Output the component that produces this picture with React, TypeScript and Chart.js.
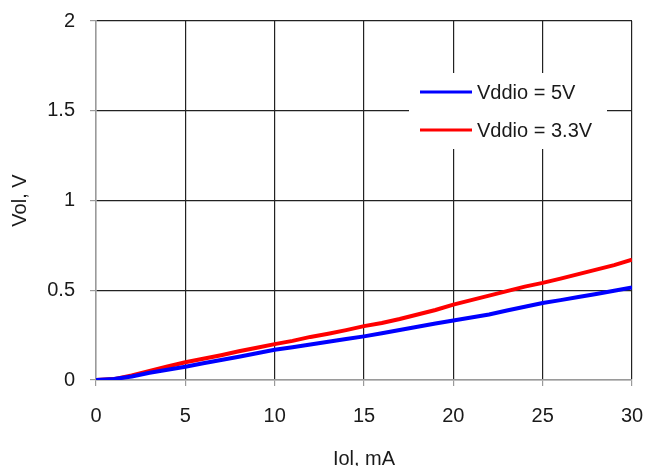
import React, { useEffect, useRef } from "react";
import { Chart, registerables } from "chart.js";

Chart.register(...registerables);

const iolMa = [0, 1, 2, 3, 4, 5, 6, 7, 8, 9, 10, 11, 12, 13, 14, 15, 16, 17, 18, 19, 20, 21, 22, 23, 24, 25, 26, 27, 28, 29, 30];
const vol5V = [0, 0.005, 0.02, 0.04, 0.057, 0.074, 0.093, 0.111, 0.13, 0.149, 0.168, 0.183, 0.198, 0.213, 0.228, 0.243, 0.26, 0.279, 0.297, 0.315, 0.332, 0.348, 0.365, 0.387, 0.408, 0.429, 0.445, 0.462, 0.479, 0.497, 0.515];
const vol33V = [0, 0.005, 0.025, 0.05, 0.075, 0.099, 0.118, 0.138, 0.16, 0.18, 0.2, 0.218, 0.24, 0.258, 0.278, 0.3, 0.318, 0.34, 0.365, 0.39, 0.42, 0.445, 0.47, 0.495, 0.52, 0.541, 0.565, 0.59, 0.615, 0.64, 0.67];
const seriesLabels = ["Vddio = 5V", "Vddio = 3.3V"];
const seriesColors = ["#0000FF", "#FF0000"];
const xTitle = "Iol, mA";
const yTitle = "Vol, V";

const FONT = "'Liberation Sans', Arial, sans-serif";
const TEXT = "#1a1a1a";

const legendPlugin = {
  id: "boxLegend",
  afterDraw(chart: any, _args: any, opts: any) {
    const ctx = chart.ctx;
    ctx.save();
    ctx.fillStyle = "#ffffff";
    ctx.fillRect(opts.x, opts.y, opts.w, opts.h);
    chart.data.datasets.forEach((ds: any, i: number) => {
      const cy = opts.y + opts.firstRow + i * opts.rowGap;
      ctx.strokeStyle = ds.borderColor;
      ctx.lineWidth = 3;
      ctx.beginPath();
      ctx.moveTo(opts.x + opts.lineStart, cy);
      ctx.lineTo(opts.x + opts.lineStart + opts.lineLen, cy);
      ctx.stroke();
      ctx.fillStyle = TEXT;
      ctx.font = `20px ${FONT}`;
      ctx.textAlign = "left";
      ctx.textBaseline = "middle";
      ctx.fillText(ds.label, opts.x + opts.textStart, cy + 1);
    });
    ctx.restore();
  },
};

export default function App() {
  const ref = useRef<HTMLCanvasElement | null>(null);
  useEffect(() => {
    if (!ref.current) return;
    const chart = new Chart(ref.current, {
      type: "line",
      data: {
        datasets: [
          {
            label: seriesLabels[0],
            data: iolMa.map((x, i) => ({ x, y: vol5V[i] })),
            borderColor: seriesColors[0],
            borderWidth: 4,
            pointRadius: 0,
            tension: 0,
          },
          {
            label: seriesLabels[1],
            data: iolMa.map((x, i) => ({ x, y: vol33V[i] })),
            borderColor: seriesColors[1],
            borderWidth: 4,
            pointRadius: 0,
            tension: 0,
          },
        ],
      },
      options: {
        animation: false,
        responsive: false,
        devicePixelRatio: 1,
        layout: { padding: { left: 0, right: 14, top: 21, bottom: 0 } },
        plugins: {
          legend: { display: false },
          tooltip: { enabled: false },
          boxLegend: { x: 409, y: 73, w: 198, h: 76, firstRow: 19, rowGap: 38, lineStart: 11, lineLen: 52, textStart: 68 },
        } as any,
        scales: {
          x: {
            type: "linear",
            min: 0,
            max: 30,
            ticks: { stepSize: 5, color: TEXT, font: { family: FONT, size: 20 }, padding: 18, maxRotation: 0 },
            grid: {
              color: (c: any) => (c.tick && c.tick.value === 0 ? "#9a9a9a" : "#222222"),
              tickColor: "#9a9a9a",
              tickLength: 6,
              lineWidth: 1.2,
            },
            border: { color: "#9a9a9a", width: 1.5 },
            title: { display: true, text: xTitle, color: TEXT, font: { family: FONT, size: 20, lineHeight: 0.7 }, padding: { top: 0, bottom: 0 } },
            afterFit: (s: any) => { s.height = 86; s.paddingLeft = 0; s.paddingRight = 0; },
          },
          y: {
            type: "linear",
            min: 0,
            max: 2,
            ticks: { stepSize: 0.5, color: TEXT, font: { family: FONT, size: 20 }, padding: 15, callback: (v: any) => String(Number(v)) },
            grid: {
              color: (c: any) => (c.tick && c.tick.value === 0 ? "#9a9a9a" : "#222222"),
              tickColor: "#9a9a9a",
              tickLength: 6,
              lineWidth: 1.2,
            },
            border: { color: "#9a9a9a", width: 1.5 },
            title: { display: true, text: yTitle, color: TEXT, font: { family: FONT, size: 20 }, padding: { top: 8, bottom: 0 } },
            afterFit: (s: any) => { s.width = 96; s.paddingTop = 0; s.paddingBottom = 0; },
          },
        },
      },
      plugins: [legendPlugin],
    });
    return () => chart.destroy();
  }, []);
  return (
    <div style={{ position: "fixed", left: 0, top: 0, width: 646, height: 466, background: "#fff" }}>
      <canvas ref={ref} width={646} height={466} style={{ display: "block" }} />
    </div>
  );
}
